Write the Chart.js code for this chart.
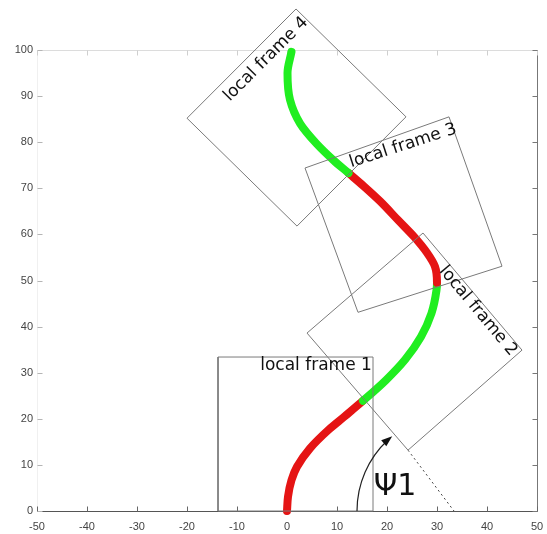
<!DOCTYPE html>
<html>
<head>
<meta charset="utf-8">
<script src="https://cdn.jsdelivr.net/npm/chart.js@4/dist/chart.umd.min.js"></script>
<style>
  html, body { margin: 0; padding: 0; background: #fff; }
  #wrap { width: 547px; height: 534px; }
</style>
</head>
<body>
<div id="wrap"><canvas id="chart"></canvas></div>
<script>
// axis ticks
const xTicks = [-50, -40, -30, -20, -10, 0, 10, 20, 30, 40, 50];
const yTicks = [0, 10, 20, 30, 40, 50, 60, 70, 80, 90, 100];

// path, split in alternating red / green pieces (x, y)
const red1 = [[0, 0], [0.2, 3.1], [0.9, 6.7], [2.0, 9.6], [4.6, 13.6], [8.3, 17.6], [11.5, 20.5], [15.2, 23.9]];
const green1 = [[15.2, 23.9], [19.8, 28.4], [23.6, 32.8], [26.8, 37.8], [28.9, 42.9], [29.9, 47.9], [30.0, 49.5]];
const red2 = [[30.0, 49.5], [29.6, 53.0], [28.0, 56.0], [25.4, 59.5], [22.3, 63.0], [18.6, 67.2], [15.3, 70.5], [12.3, 73.3]];
const green2 = [[12.3, 73.3], [9.3, 76.1], [5.9, 79.7], [2.6, 84.1], [0.6, 89.2], [0.1, 95.0], [0.9, 99.6]];

// corners of the local frames
const frame1 = [[-13.8, 0], [17.2, 0], [17.2, 33.4], [-13.8, 33.4]];
const frame2 = [[4.0, 38.6], [27.2, 60.3], [47.0, 34.9], [24.2, 13.2]];
const frame3 = [[3.6, 74.4], [32.4, 85.5], [43.0, 53.1], [14.2, 43.1]];
const frame4 = [[-20.0, 85.2], [1.8, 108.9], [23.8, 85.5], [2.0, 61.8]];
const frameNames = ['local frame 1', 'local frame 2', 'local frame 3', 'local frame 4'];

// psi1: angle between the x axis and the lower edge of frame 2
const psiOrigin = [33.4, 0];
const psiName = 'Ψ1';

// where the texts go (data units) and how they are turned
const frameLabelPos = [
  { x: 5.8, y: 31.5, rot: 0 },
  { x: 38.2, y: 43.4, rot: 50 },
  { x: 23.2, y: 79.2, rot: -18 },
  { x: -4.2, y: 98.0, rot: -45 }
];
const psiLabelPos = { x: 21.6, y: 5.2 };
const psiArcRadius = 19.4; // in x units

const RED = '#e51414';
const GREEN = '#20ee20';

const pts = a => a.map(([x, y]) => ({ x, y }));
const closed = a => pts([...a, a[0]]);

// whole path in one line so the spline stays smooth, coloured per piece
const pieces = [red1, green1, red2, green2];
const pieceColors = [RED, GREEN, RED, GREEN];
const pathPts = [];
const segColors = [];
pieces.forEach((p, k) => {
  p.forEach((q, i) => {
    if (k > 0 && i === 0) return;
    pathPts.push(q);
    if (pathPts.length > 1) segColors.push(pieceColors[k]);
  });
});

const frameStyle = {
  borderColor: '#7a7a7a', borderWidth: 1, showLine: true,
  pointRadius: 0, tension: 0, clip: false
};

const crisp = v => Math.round(v) + 0.5;

const boxPlugin = {
  id: 'box',
  beforeDatasetsDraw(chart) {
    const { ctx, chartArea: a, scales: { x, y } } = chart;
    const seg = (x1, y1, x2, y2, c) => {
      ctx.strokeStyle = c;
      ctx.beginPath();
      ctx.moveTo(x1, y1);
      ctx.lineTo(x2, y2);
      ctx.stroke();
    };
    ctx.save();
    ctx.lineWidth = 1;
    const L = crisp(a.left), R = crisp(a.right), T = crisp(a.top), B = crisp(a.bottom);
    seg(L, T, R, T, '#dcdcdc');
    seg(L, T, L, B, '#f0f0f0');
    seg(R, T, R, B, '#777');
    seg(L, B, R, B, '#555');
    xTicks.forEach(v => {
      const px = crisp(x.getPixelForValue(v));
      seg(px, B, px, B - 5, '#666');
      seg(px, T, px, T + 5, '#cfcfcf');
    });
    yTicks.forEach(v => {
      const py = crisp(y.getPixelForValue(v));
      seg(L, py, L + 5, py, '#b5b5b5');
      seg(R, py, R - 5, py, '#777');
    });
    ctx.restore();
  }
};

const notesPlugin = {
  id: 'notes',
  afterDatasetsDraw(chart) {
    const { ctx, scales: { x, y } } = chart;
    ctx.save();
    // frame names
    ctx.fillStyle = '#111';
    ctx.font = '17px "DejaVu Sans"';
    ctx.textAlign = 'center';
    ctx.textBaseline = 'middle';
    frameNames.forEach((name, i) => {
      const p = frameLabelPos[i];
      ctx.save();
      ctx.translate(x.getPixelForValue(p.x), y.getPixelForValue(p.y));
      ctx.rotate(p.rot * Math.PI / 180);
      ctx.fillText(name, 0, 0);
      ctx.restore();
    });

    // psi arc with arrow head
    const cx = x.getPixelForValue(psiOrigin[0]);
    const cy = y.getPixelForValue(psiOrigin[1]);
    const r = Math.abs(x.getPixelForValue(psiArcRadius) - x.getPixelForValue(0));
    const ex = x.getPixelForValue(frame2[0][0]);
    const ey = y.getPixelForValue(frame2[0][1]);
    const endA = Math.atan2(ey - cy, ex - cx) + 2 * Math.PI;
    ctx.strokeStyle = '#222';
    ctx.lineWidth = 1.2;
    ctx.beginPath();
    ctx.arc(cx, cy, r, Math.PI, endA - 0.06);
    ctx.stroke();
    const tx = cx + r * Math.cos(endA), ty = cy + r * Math.sin(endA);
    const dx = -Math.sin(endA), dy = Math.cos(endA);
    const nx = -dy, ny = dx;
    ctx.fillStyle = '#111';
    ctx.beginPath();
    ctx.moveTo(tx, ty);
    ctx.lineTo(tx - 11 * dx + 4 * nx, ty - 11 * dy + 4 * ny);
    ctx.lineTo(tx - 11 * dx - 4 * nx, ty - 11 * dy - 4 * ny);
    ctx.closePath();
    ctx.fill();

    ctx.font = '30px "DejaVu Sans"';
    ctx.textAlign = 'center';
    ctx.textBaseline = 'middle';
    ctx.fillText(psiName, x.getPixelForValue(psiLabelPos.x), y.getPixelForValue(psiLabelPos.y));
    ctx.restore();
  }
};

new Chart(document.getElementById('chart'), {
  type: 'scatter',
  data: {
    datasets: [
      { data: closed(frame1), ...frameStyle },
      { data: closed(frame2), ...frameStyle },
      { data: closed(frame3), ...frameStyle },
      { data: closed(frame4), ...frameStyle },
      { data: pts([frame2[3], psiOrigin]), ...frameStyle, borderColor: '#444', borderDash: [2, 3] },
      {
        type: 'line',
        indexAxis: 'y',
        data: pts(pathPts),
        borderColor: RED,
        borderWidth: 8,
        pointRadius: 0,
        cubicInterpolationMode: 'monotone',
        borderCapStyle: 'round',
        borderJoinStyle: 'round',
        fill: false,
        clip: false,
        segment: { borderColor: c => segColors[c.p0DataIndex] }
      },
      { data: pts(green2.slice(-1)), pointRadius: 3, pointBackgroundColor: '#1d6f8c', pointBorderWidth: 0 }
    ]
  },
  options: {
    animation: false,
    responsive: true,
    maintainAspectRatio: false,
    layout: { padding: { top: 50, right: 10, left: 0, bottom: 0 } },
    plugins: { legend: { display: false }, tooltip: { enabled: false } },
    scales: {
      x: {
        type: 'linear', min: -50, max: 50,
        afterBuildTicks: s => { s.ticks = xTicks.map(v => ({ value: v })); },
        afterFit: s => { s.height = 23; s.paddingLeft = 0; s.paddingRight = 0; },
        grid: { display: false, drawTicks: false },
        border: { display: false },
        ticks: { color: '#444', padding: 9, maxRotation: 0, font: { family: 'Liberation Sans', size: 11 } }
      },
      y: {
        type: 'linear', min: 0, max: 100,
        afterBuildTicks: s => { s.ticks = yTicks.map(v => ({ value: v })); },
        afterFit: s => { s.width = 37; s.paddingTop = 0; s.paddingBottom = 0; },
        grid: { display: false, drawTicks: false },
        border: { display: false },
        ticks: { color: '#444', padding: 4, font: { family: 'Liberation Sans', size: 11 } }
      }
    }
  },
  plugins: [boxPlugin, notesPlugin]
});
</script>
</body>
</html>
